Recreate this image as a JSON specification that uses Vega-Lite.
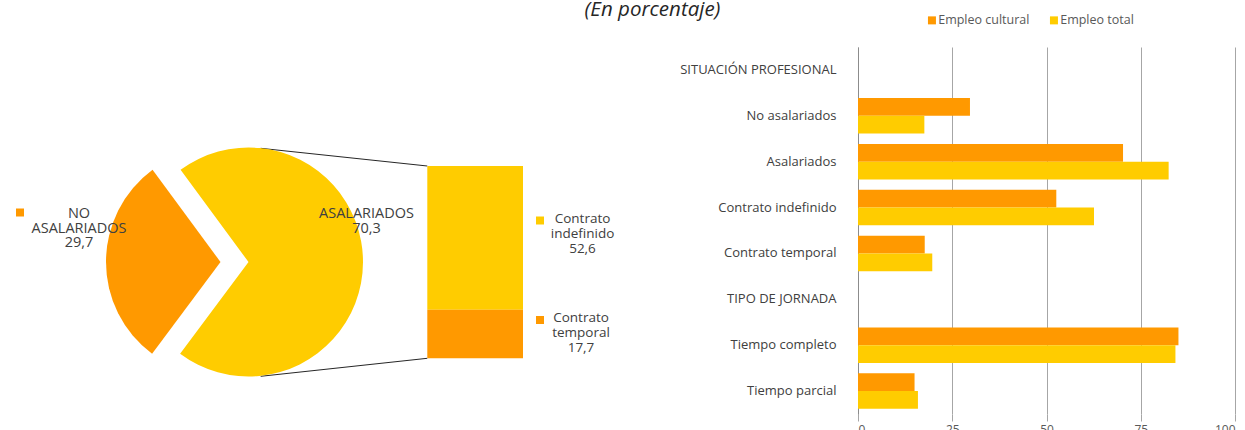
{
  "$schema": "https://vega.github.io/schema/vega-lite/v6.json",
  "padding": 0,
  "bounds": "flush",
  "spacing": 0,
  "config": {"view": {"stroke": null}, "font": "Open Sans"},
  "resolve": {"scale": {"color": "independent", "x": "independent", "y": "independent"}, "legend": {"color": "independent"}},
  "vconcat": [
    {
      "width": 1245,
      "height": 46,
      "data": {"values": [{"titulo": "(En porcentaje)"}]},
      "mark": {"type": "text", "fontSize": 20.5, "fontStyle": "italic", "color": "#262626", "dx": 30, "dy": -14, "align": "center", "baseline": "middle"},
      "encoding": {"text": {"field": "titulo", "type": "nominal"}}
    },
    {
      "bounds": "flush",
      "spacing": 218,
      "resolve": {"scale": {"color": "independent", "x": "independent", "y": "independent"}, "legend": {"color": "independent"}},
      "hconcat": [
        {
          "width": 640,
          "height": 367,
          "layer": [
            {
              "data": {"values": [
                {"x": 260.7, "y": 147.3, "x2": 427.3, "y2": 165},
                {"x": 260.7, "y": 375.3, "x2": 427.3, "y2": 357.3}
              ]},
              "mark": {"type": "rule", "color": "#262626", "strokeWidth": 1},
              "encoding": {
                "x": {"field": "x", "type": "quantitative", "scale": {"domain": [0, 640], "nice": false, "zero": false}, "axis": null},
                "y": {"field": "y", "type": "quantitative", "scale": {"domain": [413, 46], "nice": false, "zero": false}, "axis": null},
                "x2": {"field": "x2"},
                "y2": {"field": "y2"}
              }
            },
            {
              "data": {"values": [
                {"seg": "ASALARIADOS", "valor": 70.3, "t0": 0, "t1": 70.3, "cx": 248.5, "cy": 261},
                {"seg": "NO ASALARIADOS", "valor": 29.7, "t0": 70.3, "t1": 100, "cx": 220.5, "cy": 261}
              ]},
              "mark": {"type": "arc", "radius": 114.5},
              "encoding": {
                "x": {"field": "cx", "type": "quantitative"},
                "y": {"field": "cy", "type": "quantitative"},
                "theta": {"field": "t0", "type": "quantitative", "scale": {"domain": [0, 100], "range": [5.648, 11.931]}},
                "theta2": {"field": "t1"},
                "color": {"field": "seg", "type": "nominal", "scale": {"domain": ["NO ASALARIADOS", "ASALARIADOS", "Contrato indefinido", "Contrato temporal"], "range": ["#FF9900", "#FFCC00", "#FFCC00", "#FF9900"]}, "legend": null}
              }
            },
            {
              "data": {"values": [
                {"seg": "Contrato indefinido", "valor": 52.6, "x0": 427.3, "x1": 523, "y0": 165, "y1": 308.8},
                {"seg": "Contrato temporal", "valor": 17.7, "x0": 427.3, "x1": 523, "y0": 308.8, "y1": 357.3}
              ]},
              "mark": {"type": "rect"},
              "encoding": {
                "x": {"field": "x0", "type": "quantitative"},
                "x2": {"field": "x1"},
                "y": {"field": "y0", "type": "quantitative"},
                "y2": {"field": "y1"},
                "color": {"field": "seg", "type": "nominal", "legend": null}
              }
            },
            {
              "data": {"values": [
                {"seg": "NO ASALARIADOS", "x": 20, "y": 211.5},
                {"seg": "Contrato indefinido", "x": 540, "y": 219.5},
                {"seg": "Contrato temporal", "x": 540, "y": 319}
              ]},
              "mark": {"type": "square", "size": 64, "filled": true, "opacity": 1},
              "encoding": {
                "x": {"field": "x", "type": "quantitative"},
                "y": {"field": "y", "type": "quantitative"},
                "color": {"field": "seg", "type": "nominal", "legend": null}
              }
            },
            {
              "data": {"values": [
                {"etiqueta": "NO\nASALARIADOS\n29,7", "x": 79, "y": 212.7},
                {"etiqueta": "ASALARIADOS\n70,3", "x": 366.5, "y": 213.3}
              ]},
              "mark": {"type": "text", "lineBreak": "\n", "lineHeight": 14.8, "fontSize": 14.5, "color": "#404040", "align": "center", "baseline": "middle"},
              "encoding": {
                "x": {"field": "x", "type": "quantitative"},
                "y": {"field": "y", "type": "quantitative"},
                "text": {"field": "etiqueta", "type": "nominal"}
              }
            },
            {
              "data": {"values": [
                {"etiqueta": "Contrato\nindefinido\n52,6", "x": 582.5, "y": 218},
                {"etiqueta": "Contrato\ntemporal\n17,7", "x": 581, "y": 316.7}
              ]},
              "mark": {"type": "text", "lineBreak": "\n", "lineHeight": 15.2, "fontSize": 13.5, "color": "#404040", "align": "center", "baseline": "middle"},
              "encoding": {
                "x": {"field": "x", "type": "quantitative"},
                "y": {"field": "y", "type": "quantitative"},
                "text": {"field": "etiqueta", "type": "nominal"}
              }
            }
          ]
        },
        {
          "width": 377,
          "height": 367,
          "data": {"values": [
            {"cat": "No asalariados", "serie": "Empleo cultural", "valor": 29.7},
            {"cat": "No asalariados", "serie": "Empleo total", "valor": 17.6},
            {"cat": "Asalariados", "serie": "Empleo cultural", "valor": 70.3},
            {"cat": "Asalariados", "serie": "Empleo total", "valor": 82.4},
            {"cat": "Contrato indefinido", "serie": "Empleo cultural", "valor": 52.6},
            {"cat": "Contrato indefinido", "serie": "Empleo total", "valor": 62.6},
            {"cat": "Contrato temporal", "serie": "Empleo cultural", "valor": 17.7},
            {"cat": "Contrato temporal", "serie": "Empleo total", "valor": 19.7},
            {"cat": "Tiempo completo", "serie": "Empleo cultural", "valor": 85.0},
            {"cat": "Tiempo completo", "serie": "Empleo total", "valor": 84.2},
            {"cat": "Tiempo parcial", "serie": "Empleo cultural", "valor": 15.0},
            {"cat": "Tiempo parcial", "serie": "Empleo total", "valor": 15.9}
          ]},
          "mark": {"type": "bar"},
          "encoding": {
            "y": {
              "field": "cat", "type": "nominal",
              "scale": {"domain": ["SITUACIÓN PROFESIONAL", "No asalariados", "Asalariados", "Contrato indefinido", "Contrato temporal", "TIPO DE JORNADA", "Tiempo completo", "Tiempo parcial"], "paddingInner": 0.226, "paddingOuter": 0.113},
              "axis": {"title": null, "domain": true, "domainColor": "#8c8c8c", "domainWidth": 1, "ticks": false, "labelPadding": 22, "labelFontSize": 13, "labelColor": "#404040", "labelLimit": 300, "grid": false}
            },
            "yOffset": {"field": "serie", "type": "nominal", "scale": {"domain": ["Empleo cultural", "Empleo total"], "paddingInner": 0, "paddingOuter": 0}},
            "x": {
              "field": "valor", "type": "quantitative",
              "scale": {"domain": [0, 100], "nice": false},
              "axis": {"title": null, "values": [0, 25, 50, 75, 100], "grid": true, "gridColor": "#a6a6a6", "gridWidth": 1, "domain": false, "ticks": true, "tickSize": 7, "tickColor": "#a6a6a6", "labelFontSize": 12, "labelColor": "#595959", "labelPadding": 3}
            },
            "color": {
              "field": "serie", "type": "nominal",
              "scale": {"domain": ["Empleo cultural", "Empleo total"], "range": ["#FF9900", "#FFCC00"]},
              "legend": {"orient": "none", "legendX": 67.7, "legendY": -33, "direction": "horizontal", "title": null, "symbolType": "square", "symbolSize": 64, "symbolStrokeWidth": 0, "symbolOpacity": 1, "labelFontSize": 12.5, "labelColor": "#595959", "labelOffset": 0, "columnPadding": 18, "padding": 0}
            }
          }
        }
      ]
    }
  ]
}
